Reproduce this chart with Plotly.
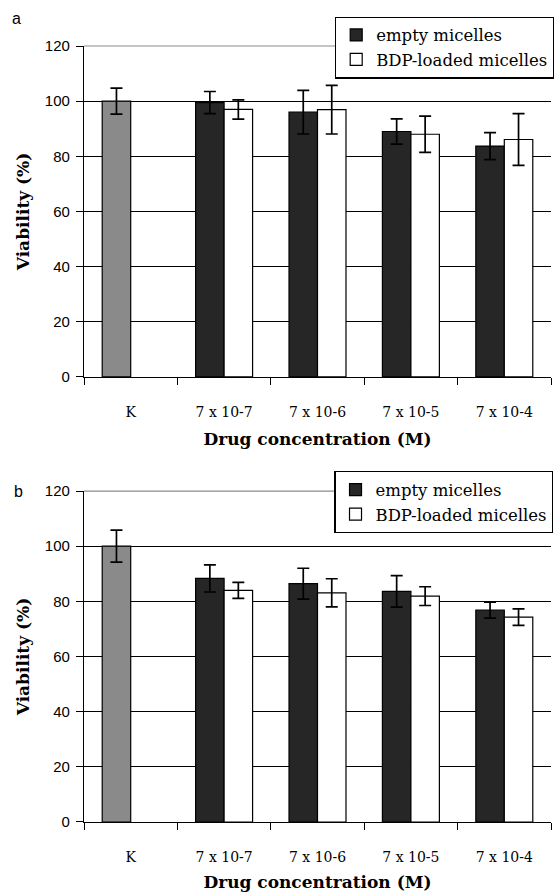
import plotly.graph_objects as go

categories = ["K", "7 x 10-7", "7 x 10-6", "7 x 10-5", "7 x 10-4"]
series_names = ["empty micelles", "BDP-loaded micelles"]

# Panel a
control_a = [100.0]
control_a_err = [4.7]
empty_a = [99.5, 96.0, 89.0, 83.7]
empty_a_err = [4.0, 7.9, 4.6, 4.9]
bdp_a = [97.0, 96.9, 88.0, 86.1]
bdp_a_err = [3.5, 8.8, 6.6, 9.4]

# Panel b
control_b = [100.0]
control_b_err = [5.8]
empty_b = [88.3, 86.4, 83.6, 76.8]
empty_b_err = [4.9, 5.6, 5.7, 2.9]
bdp_b = [84.0, 83.1, 81.9, 74.3]
bdp_b_err = [2.9, 5.1, 3.4, 3.0]

y_ticks = [0, 20, 40, 60, 80, 100, 120]

GRAY = "#8a8a8a"
DARK = "#262626"
SERIF = "DejaVu Serif"
SANS = "Liberation Sans"

fig = go.Figure()


def err(vals):
    return dict(type="data", array=vals, visible=True, color="black",
                thickness=1.7, width=6)


def add_panel(xa, ya, legend, ctrl, ctrl_err, emp, emp_err, bdp, bdp_err):
    line = dict(color="black", width=1.2)
    fig.add_trace(go.Bar(x=categories[:1], y=ctrl, error_y=err(ctrl_err),
                         marker=dict(color=GRAY, line=line), offsetgroup="e",
                         showlegend=False, xaxis=xa, yaxis=ya, legend=legend))
    fig.add_trace(go.Bar(x=categories[1:], y=emp, error_y=err(emp_err),
                         name=series_names[0],
                         marker=dict(color=DARK, line=line), offsetgroup="e",
                         xaxis=xa, yaxis=ya, legend=legend))
    fig.add_trace(go.Bar(x=categories[1:], y=bdp, error_y=err(bdp_err),
                         name=series_names[1],
                         marker=dict(color="white", line=line), offsetgroup="b",
                         xaxis=xa, yaxis=ya, legend=legend))


add_panel("x", "y", "legend", control_a, control_a_err, empty_a, empty_a_err,
          bdp_a, bdp_a_err)
add_panel("x2", "y2", "legend2", control_b, control_b_err, empty_b, empty_b_err,
          bdp_b, bdp_b_err)

xaxis_common = dict(
    type="category", categoryorder="array", categoryarray=categories,
    range=[-0.5, 4.5], tickson="boundaries", ticks="outside", ticklen=7,
    tickcolor="black", tickwidth=1.2, showline=True, linecolor="black",
    linewidth=1.2, showgrid=False, zeroline=False,
    tickfont=dict(family=SERIF, size=14, color="black"),
    ticklabelstandoff=22,
    title=dict(text="Drug concentration (M)", standoff=14,
               font=dict(family=SERIF, size=17, color="black", weight="bold")),
)
yaxis_common = dict(
    range=[0, 120], tickmode="array", tickvals=y_ticks, ticks="outside",
    ticklen=7, tickcolor="black", tickwidth=1.2, showline=True,
    linecolor="black", linewidth=1.2, showgrid=True, gridcolor="black",
    gridwidth=1.2, zeroline=False,
    tickfont=dict(family=SANS, size=15, color="black"),
    ticklabelstandoff=3,
    title=dict(text="Viability (%)", standoff=10,
               font=dict(family=SERIF, size=17, color="black", weight="bold")),
)

legend_common = dict(
    xref="paper", yref="paper", xanchor="left", yanchor="top",
    bgcolor="white", bordercolor="black", borderwidth=1.2,
    font=dict(family=SERIF, size=16.5, color="black"),
    itemwidth=30, traceorder="normal",
)

fig.update_layout(
    width=554, height=892,
    margin=dict(l=84, r=0, t=46, b=70),
    paper_bgcolor="white", plot_bgcolor="white",
    barmode="group", bargap=0.39, bargroupgap=0.0,
    xaxis=dict(domain=[0, 1], anchor="y", **xaxis_common),
    yaxis=dict(domain=[0.5735, 1.0], anchor="x", **yaxis_common),
    xaxis2=dict(domain=[0, 1], anchor="y2", **xaxis_common),
    yaxis2=dict(domain=[0.0, 0.4265], anchor="x2", **yaxis_common),
    legend=dict(x=0.538, y=1.038, **legend_common),
    legend2=dict(x=0.536, y=0.452, **legend_common),
    annotations=[
        dict(text="a", xref="paper", yref="paper", x=-0.145, y=1.035,
             xanchor="center", yanchor="middle", showarrow=False,
             font=dict(family=SANS, size=16, color="black")),
        dict(text="b", xref="paper", yref="paper", x=-0.14, y=0.426,
             xanchor="center", yanchor="middle", showarrow=False,
             font=dict(family=SANS, size=16, color="black")),
    ],
    shapes=[
        dict(type="line", xref="x domain", yref="y domain", x0=0, x1=1,
             y0=1, y1=1, line=dict(color="#8c8c8c", width=1.2), layer="above"),
        dict(type="line", xref="x2 domain", yref="y2 domain", x0=0, x1=1,
             y0=1, y1=1, line=dict(color="#8c8c8c", width=1.2), layer="above"),
    ],
)

fig.write_html("out.html")
